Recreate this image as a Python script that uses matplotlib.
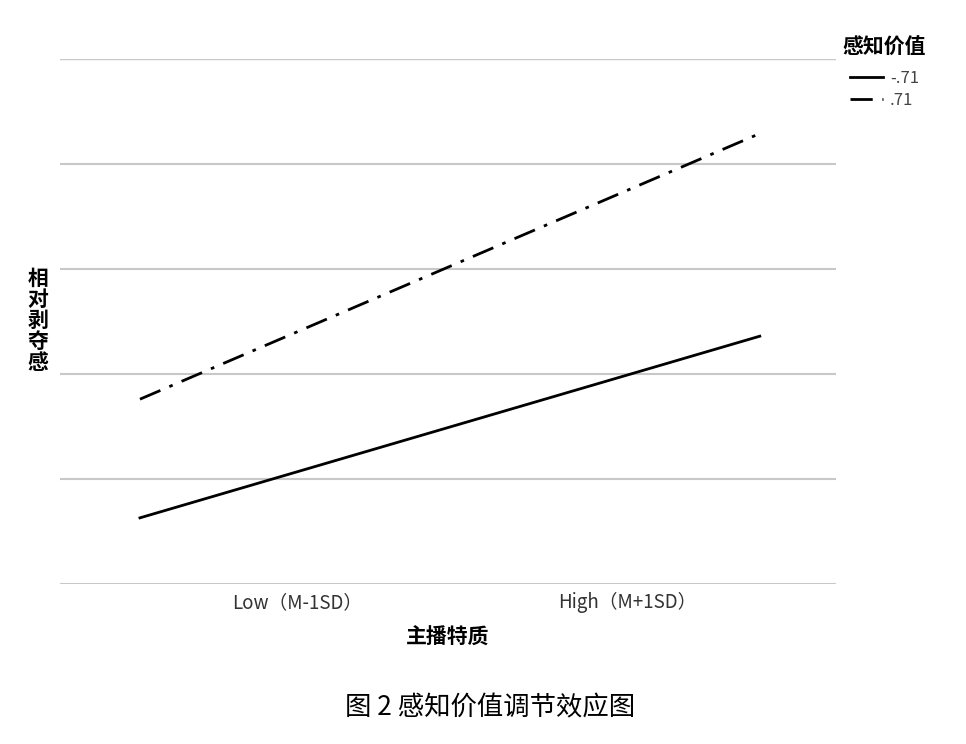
import matplotlib.pyplot as plt

plt.rcParams['font.family'] = ['Noto Sans CJK SC', 'DejaVu Sans']

groups = ['Low（M-1SD）', 'High（M+1SD）']
x_pos = [0, 1]
tick_pos = [0.253, 0.787]
low_value = [0.63, 2.36]    # 感知价值 = -.71
high_value = [1.76, 4.29]   # 感知价值 = .71
series_labels = ['-.71', '.71']

fig = plt.figure(figsize=(9.66, 7.44), dpi=100)
ax = fig.add_axes([60 / 966, 1 - 584 / 744, 776 / 966, 525 / 744])

ax.plot(x_pos, low_value, color='black', lw=2.0, label=series_labels[0])
ax.plot(x_pos, high_value, color='black', lw=2.0, dashes=(8, 3.5, 1.3, 3.5),
        label=series_labels[1])

ax.set_xlim(-0.129, 1.123)
ax.set_ylim(0, 5)
ax.set_yticks(range(6))
ax.set_yticklabels([])
ax.grid(axis='y', color='#c8c8c8', lw=1.5)
ax.set_axisbelow(True)
for s in ax.spines.values():
  s.set_visible(False)
ax.axhline(0, color='#b0b0b0', lw=1.8, zorder=0)
ax.axhline(5, color='#b8b8b8', lw=1.6, zorder=0)
ax.set_xticks(tick_pos)
ax.set_xticklabels(groups, fontsize=13.5, color='#333333')
ax.tick_params(length=0, pad=6)

ax.set_xlabel('主播特质', fontsize=15, fontweight='bold', labelpad=10)
fig.text(38 / 966, 1 - 320 / 744, '相\n对\n剥\n夺\n感', fontsize=15,
         fontweight='bold', ha='center', va='center', linespacing=1.0)

leg = ax.legend(title='感知价值', loc='upper left', bbox_to_anchor=(1.0, 1.055),
                frameon=False, fontsize=12, handlelength=2.0, handletextpad=0.4,
                labelspacing=0.3, borderaxespad=0)
leg.get_title().set_fontweight('bold')
leg.get_title().set_fontsize(15)
leg._legend_box.sep = 9
for t in leg.get_texts():
  t.set_color('#444444')

fig.text(490 / 966, 1 - 708 / 744, '图 2 感知价值调节效应图', fontsize=19,
         ha='center', va='center', fontweight='light')

plt.savefig('out.png')
